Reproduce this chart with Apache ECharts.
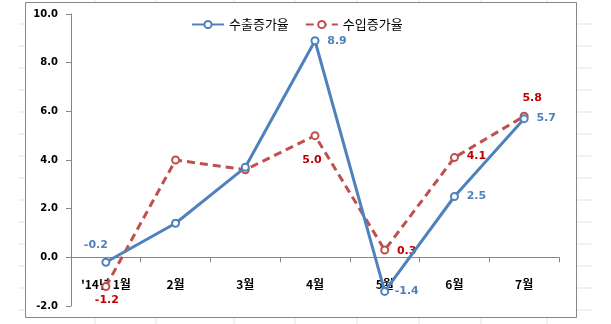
<!DOCTYPE html>
<html><head><meta charset="utf-8">
<script src="https://cdn.jsdelivr.net/npm/echarts@6/dist/echarts.min.js"></script>
<style>html,body{margin:0;padding:0;background:#fff}#c{width:611px;height:324px}</style>
</head><body><div id="c"></div>
<script>
var categories = ["'14년 1월", "2월", "3월", "4월", "5월", "6월", "7월"];
var exportRate = [-0.2, 1.4, 3.7, 8.9, -1.4, 2.5, 5.7];
var importRate = [-1.2, 4.0, 3.6, 5.0, 0.3, 4.1, 5.8];
var seriesNames = ["수출증가율", "수입증가율"];

// label placement (style only)
var expLabelPos = [[-10,-17], null, null, [22,0], [22,0], [22,0], [22,0]];
var impLabelPos = [[1,14], null, null, [-3,24], [22,1], [22,-1], [8,-18]];

function build(vals, pos, color) {
  return vals.map(function (v, i) {
    var p = pos[i];
    if (!p) return { value: v, label: { show: false } };
    return { value: v, label: { show: true, position: 'inside', offset: p, color: color,
      fontFamily: 'DejaVu Sans', fontSize: 11, fontWeight: 'bold',
      formatter: function (d) { return d.value.toFixed(1); } } };
  });
}

var graphics = [];
var lx = [24,46,68,90,112,134,156,178,200,222,244,266,288,310];
lx.forEach(function (y) {
  graphics.push({ type: 'line', shape: { x1: 18, y1: y, x2: 25, y2: y }, style: { stroke: '#e3e3e3', lineWidth: 1 }, silent: true });
  graphics.push({ type: 'line', shape: { x1: 577, y1: y, x2: 592, y2: y }, style: { stroke: '#e3e3e3', lineWidth: 1 }, silent: true });
});
[95,156,234,295,357,419,481,547].forEach(function (x) {
  graphics.push({ type: 'line', shape: { x1: x, y1: 0, x2: x, y2: 2 }, style: { stroke: '#e3e3e3', lineWidth: 1 }, silent: true });
  graphics.push({ type: 'line', shape: { x1: x, y1: 318, x2: x, y2: 324 }, style: { stroke: '#e3e3e3', lineWidth: 1 }, silent: true });
});
graphics.push({ type: 'rect', shape: { x: 25.5, y: 2.5, width: 551, height: 315 }, style: { fill: 'none', stroke: '#868686', lineWidth: 1 }, silent: true });

var chart = echarts.init(document.getElementById('c'), null, { renderer: 'canvas' });
chart.setOption({
  animation: false,
  backgroundColor: '#fff',
  graphic: graphics,
  legend: {
    top: 13, left: 186, itemGap: 16, itemWidth: 32, itemHeight: 9,
    textStyle: { fontFamily: 'Noto Sans CJK KR', fontSize: 13, color: '#000' },
    data: seriesNames
  },
  grid: { left: 71, right: 52, top: 14, bottom: 18, containLabel: false, outerBoundsMode: 'none' },
  xAxis: {
    type: 'category', data: categories, boundaryGap: true,
    axisLine: { onZero: true, lineStyle: { color: '#868686', width: 1 } },
    axisTick: { show: true, inside: false, length: 5, lineStyle: { color: '#868686' } },
    axisLabel: { margin: -28, color: '#000', fontFamily: 'Noto Sans CJK KR', fontSize: 12, fontWeight: 'bold' }
  },
  yAxis: {
    type: 'value', min: -2, max: 10, interval: 2,
    axisLine: { show: true, lineStyle: { color: '#868686', width: 1 } },
    axisTick: { show: true, inside: false, length: 5, lineStyle: { color: '#868686' } },
    splitLine: { show: false },
    axisLabel: { margin: 13, color: '#000', fontFamily: 'DejaVu Sans', fontSize: 10, fontWeight: 'bold',
      formatter: function (v) { return v.toFixed(1); } }
  },
  series: [
    { name: seriesNames[0], type: 'line', data: build(exportRate, expLabelPos, '#4F81BD'),
      symbol: 'emptyCircle', symbolSize: 7, z: 3,
      lineStyle: { color: '#4F81BD', width: 3 },
      itemStyle: { color: '#4F81BD', borderWidth: 1 } },
    { name: seriesNames[1], type: 'line', data: build(importRate, impLabelPos, '#C00000'),
      symbol: 'emptyCircle', symbolSize: 7, z: 2,
      lineStyle: { color: '#C0504D', width: 3, type: [8, 5] },
      itemStyle: { color: '#C0504D', borderWidth: 1 } }
  ]
});
</script></body></html>
